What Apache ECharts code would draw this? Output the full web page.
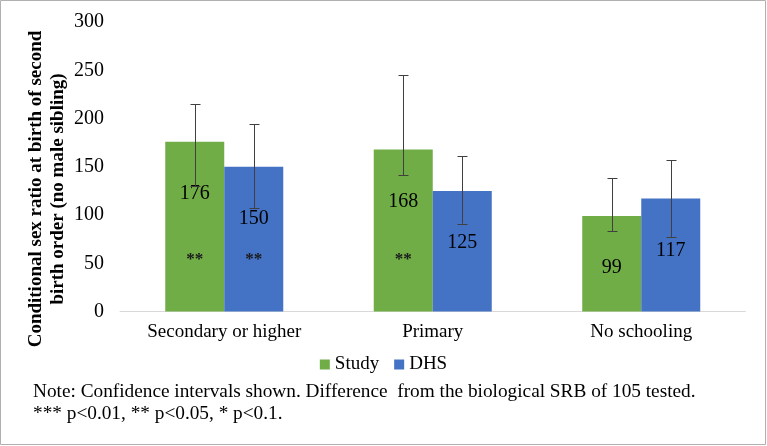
<!DOCTYPE html>
<html>
<head>
<meta charset="utf-8">
<script src="https://cdn.jsdelivr.net/npm/echarts@6/dist/echarts.min.js"></script>
<style>html,body{margin:0;padding:0;background:#fff;}#chart{width:767px;height:446px;}</style>
</head>
<body>
<div id="chart"></div>
<script>
var categories = ['Secondary or higher', 'Primary', 'No schooling'];
var studyValues = [176, 168, 99];
var dhsValues = [150, 125, 117];
var studyLow = [130, 141, 83];
var studyHigh = [215, 245, 138];
var dhsLow = [107, 91, 77];
var dhsHigh = [194, 161, 157];
var studyStars = ['**', '**', ''];
var dhsStars = ['**', '', ''];
var starLevel = 54;
var yTicks = [0, 50, 100, 150, 200, 250, 300];

var GAP = 0.434;
var FONT = '"Liberation Serif", "Times New Roman", serif';

function errSeries(name, lows, highs, sign) {
  return {
    type: 'custom', name: name + ' CI', z: 5, silent: true,
    data: categories.map(function (c, i) { return [i, lows[i], highs[i]]; }),
    renderItem: function (params, api) {
      var band = api.size([1, 0])[0];
      var bw = band * (1 - GAP) / 2;
      var off = sign * bw / 2;
      var lo = api.coord([api.value(0), api.value(1)]);
      var hi = api.coord([api.value(0), api.value(2)]);
      var x = Math.round(lo[0] + off) + 0.5;
      var cap = 5;
      var st = { stroke: '#404040', lineWidth: 1 };
      return { type: 'group', children: [
        { type: 'line', shape: { x1: x, y1: lo[1], x2: x, y2: hi[1] }, style: st },
        { type: 'line', shape: { x1: x - cap, y1: Math.round(lo[1]) + 0.5, x2: x + cap, y2: Math.round(lo[1]) + 0.5 }, style: st },
        { type: 'line', shape: { x1: x - cap, y1: Math.round(hi[1]) + 0.5, x2: x + cap, y2: Math.round(hi[1]) + 0.5 }, style: st }
      ]};
    }
  };
}

function starSeries(name, stars, sign) {
  return {
    type: 'custom', name: name + ' sig', z: 6, silent: true,
    data: categories.map(function (c, i) { return [i, starLevel, stars[i]]; }),
    renderItem: function (params, api) {
      var band = api.size([1, 0])[0];
      var bw = band * (1 - GAP) / 2;
      var off = sign * bw / 2;
      var p = api.coord([api.value(0), api.value(1)]);
      var txt = stars[params.dataIndex];
      return { type: 'text', style: { x: p[0] + off, y: p[1], text: txt, align: 'center', verticalAlign: 'middle', font: 'bold 17px ' + FONT, fill: '#1a1a1a' } };
    }
  };
}

var chart = echarts.init(document.getElementById('chart'));
chart.setOption({
  animation: false,
  backgroundColor: '#ffffff',
  grid: { left: 120, right: 21.5, top: 22, bottom: 134.5 },
  legend: {
    data: ['Study', 'DHS'], bottom: 67, left: 'center', itemWidth: 10, itemHeight: 10, itemGap: 15,
    icon: 'rect',
    textStyle: { fontFamily: FONT, fontSize: 19, color: '#000' }
  },
  xAxis: {
    type: 'category', data: categories,
    axisLine: { lineStyle: { color: '#d9d9d9', width: 1 } },
    axisTick: { show: false },
    axisLabel: { fontFamily: FONT, fontSize: 19, color: '#000', margin: 11 }
  },
  yAxis: {
    type: 'value', min: 0, max: 300, interval: 50,
    axisLine: { show: false }, axisTick: { show: false },
    splitLine: { show: false },
    axisLabel: { fontFamily: FONT, fontSize: 20, color: '#000', margin: 16,
      formatter: function (v) { return yTicks.indexOf(v) >= 0 ? String(v) : ''; } }
  },
  series: [
    { name: 'Study', type: 'bar', data: studyValues, barGap: '0%', barCategoryGap: (GAP * 100) + '%',
      itemStyle: { color: '#70AD47' },
      label: { show: true, position: 'insideTop', distance: 42, fontFamily: FONT, fontSize: 20, color: '#000' } },
    { name: 'DHS', type: 'bar', data: dhsValues, barGap: '0%', barCategoryGap: (GAP * 100) + '%',
      itemStyle: { color: '#4472C4' },
      label: { show: true, position: 'insideTop', distance: 42, fontFamily: FONT, fontSize: 20, color: '#000' } },
    errSeries('Study', studyLow, studyHigh, -1),
    errSeries('DHS', dhsLow, dhsHigh, 1),
    starSeries('Study', studyStars, -1),
    starSeries('DHS', dhsStars, 1)
  ],
  graphic: [
    { type: 'rect', shape: { x: 0.5, y: 0.5, width: 765, height: 444 }, style: { fill: 'none', stroke: '#b0b0b0', lineWidth: 1 }, silent: true },
    { type: 'text', x: 47, y: 189, rotation: Math.PI / 2,
      style: { text: 'Conditional sex ratio at birth of second\nbirth order (no male sibling)', align: 'center', verticalAlign: 'middle',
        font: 'bold 19px ' + FONT, fill: '#000', lineHeight: 22 } },
    { type: 'text', left: 33, top: 381,
      style: { text: 'Note: Confidence intervals shown. Difference  from the biological SRB of 105 tested.\n*** p<0.01, ** p<0.05, * p<0.1.',
        font: '19.3px ' + FONT, fill: '#000', lineHeight: 22 } }
  ]
});
</script>
</body>
</html>
